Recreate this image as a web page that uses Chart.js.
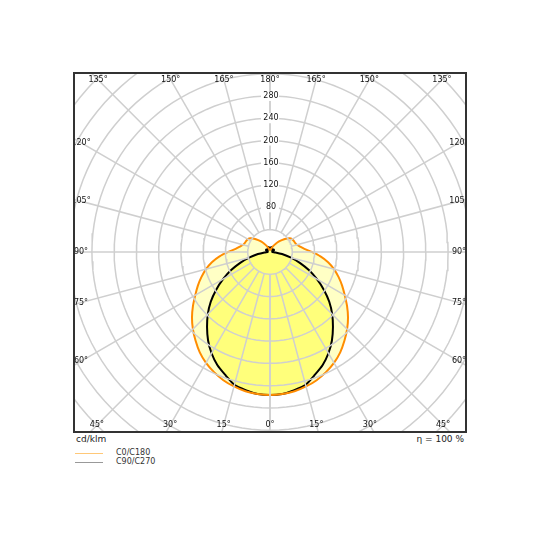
<!DOCTYPE html>
<html lang="en">
<head>
<meta charset="UTF-8">
<title>Polar intensity</title>
<script src="https://cdn.jsdelivr.net/npm/chart.js@4"></script>
<style>
  body { margin: 0; background: #fff; font-family: "DejaVu Sans", sans-serif; }
  #wrap { position: absolute; left: 73px; top: 72px; width: 394px; height: 361px; }
  .txt { position: absolute; font-size: 9px; color: #222; }
  .leg { position: absolute; font-size: 8px; color: #333; }
  .line { position: absolute; width: 28px; height: 0; border-top: 1px solid; }
</style>
</head>
<body>
<div id="wrap"><canvas id="c" width="394" height="361"></canvas></div>
<div class="txt" style="left:76px;top:434px">cd/klm</div>
<div class="txt" style="left:400px;top:434px;width:64px;text-align:right">η = 100 %</div>
<div class="line" style="left:75px;top:453px;border-color:#ffc878"></div>
<div class="leg" style="left:116px;top:448px">C0/C180</div>
<div class="line" style="left:75px;top:462px;border-color:#999"></div>
<div class="leg" style="left:116px;top:457px">C90/C270</div>
<script>
// angles from nadir (deg), 5 deg steps
const angles = [0,5,10,15,20,25,30,35,40,45,50,55,60,65,70,75,80,85,90,95,100,105,110,115,120,125,130,135,140,145,150,155,160,165,170,175,180];
const c0c180 = [257,256,254,250,245,238,230,220,208,196,183,169,155,143,131,119,106,91,75,62,55,50,48,47,46,43,37,30,24,18,13,9,6,5,4,4,4];
const c90c270 = [257,256,252,247,235,224,210,194,176,158,139,118,97,77,57,38,22,10,4,4,5,6,7,8,8,8,7,6,5,5,6,8,9,9,8,7,6];
const ringValues = [40,80,120,160,200,240,280,320,360,400,440,480];
const ringLabels = [80,120,160,200,240,280];
const spokeAngles = [0,15,30,45,60,75,90,105,120,135,150,165,180];

// full closed curve going round both halves
function polar(vals) {
  const pts = [];
  for (let i = angles.length - 1; i >= 0; i--) pts.push({x: -vals[i] * Math.sin(angles[i] * Math.PI / 180), y: -vals[i] * Math.cos(angles[i] * Math.PI / 180)});
  for (let i = 1; i < angles.length; i++) pts.push({x: vals[i] * Math.sin(angles[i] * Math.PI / 180), y: -vals[i] * Math.cos(angles[i] * Math.PI / 180)});
  return pts;
}

const grid = [];
ringValues.forEach(r => {
  const pts = [];
  for (let a = 0; a <= 360; a += 3) pts.push({x: r * Math.cos(a * Math.PI / 180), y: r * Math.sin(a * Math.PI / 180)});
  grid.push({data: pts, borderColor: '#cfcfcf', borderWidth: 1.5, pointRadius: 0, showLine: true, clip: 0});
});
spokeAngles.forEach(a => {
  [-1, 1].forEach(s => {
    const t = a * Math.PI / 180;
    grid.push({data: [{x: s * 40 * Math.sin(t), y: -40 * Math.cos(t)}, {x: s * 700 * Math.sin(t), y: -700 * Math.cos(t)}],
      borderColor: '#cfcfcf', borderWidth: 1.5, pointRadius: 0, showLine: true, clip: 0});
  });
});

// fills drawn straight from the curve points via the scales
const fillPlugin = {
  id: 'fills',
  beforeDatasetsDraw(chart) {
    const ctx = chart.ctx, xs = chart.scales.x, ys = chart.scales.y;
    [[c0c180, 'rgba(255,255,90,0.35)'], [c90c270, 'rgba(255,255,110,0.85)']].forEach(([vals, col]) => {
      const pts = polar(vals);
      ctx.save();
      ctx.beginPath();
      pts.forEach((p, i) => {
        const px = xs.getPixelForValue(p.x), py = ys.getPixelForValue(p.y);
        if (i) ctx.lineTo(px, py); else ctx.moveTo(px, py);
      });
      ctx.closePath();
      ctx.fillStyle = col;
      ctx.fill();
      ctx.restore();
    });
  }
};

const labelsPlugin = {
  id: 'labels',
  afterDatasetsDraw(chart) {
    const ctx = chart.ctx, xs = chart.scales.x, ys = chart.scales.y, ca = chart.chartArea;
    const cx = xs.getPixelForValue(0), cy = ys.getPixelForValue(0);
    ctx.save();
    ctx.font = '8px "DejaVu Sans"';
    ctx.fillStyle = '#111';
    ctx.textAlign = 'center';
    ctx.textBaseline = 'middle';
    const l = ca.left + 8, r = ca.right - 8, tp = ca.top + 8, b = ca.bottom - 8;
    spokeAngles.forEach(a => {
      [-1, 1].forEach(s => {
        if ((a === 0 || a === 180) && s === -1) return;
        const t = a * Math.PI / 180;
        const dx = s * Math.sin(t), dy = Math.cos(t);
        let k = Infinity;
        if (dx > 1e-6) k = Math.min(k, (r - cx) / dx);
        if (dx < -1e-6) k = Math.min(k, (l - cx) / dx);
        if (dy > 1e-6) k = Math.min(k, (b - cy) / dy);
        if (dy < -1e-6) k = Math.min(k, (tp - cy) / dy);
        ctx.fillText(a + '°', cx + dx * k, cy + dy * k);
      });
    });
    ringLabels.forEach(v => {
      const y = ys.getPixelForValue(v);
      ctx.fillStyle = '#fff';
      ctx.fillRect(cx - 9, y - 5, 18, 10);
      ctx.fillStyle = '#111';
      ctx.fillText(String(v), cx + 1, y);
    });
    ctx.strokeStyle = '#333';
    ctx.lineWidth = 2;
    ctx.strokeRect(ca.left + 1, ca.top + 1, ca.width - 2, ca.height - 2);
    ctx.restore();
  }
};

new Chart(document.getElementById('c'), {
  type: 'scatter',
  data: {
    datasets: grid.concat([
      {data: polar(c0c180), borderColor: '#ff8c00', borderWidth: 2, pointRadius: 0, showLine: true, tension: 0.2},
      {data: polar(c90c270), borderColor: '#000', borderWidth: 2, pointRadius: 0, showLine: true, tension: 0.2}
    ])
  },
  options: {
    responsive: false,
    animation: false,
    layout: {padding: 0},
    plugins: {legend: {display: false}, tooltip: {enabled: false}},
    scales: {
      x: {type: 'linear', min: -354, max: 354, display: false},
      y: {type: 'linear', min: -325, max: 323, display: false}
    }
  },
  plugins: [fillPlugin, labelsPlugin]
});
</script>
</body>
</html>
